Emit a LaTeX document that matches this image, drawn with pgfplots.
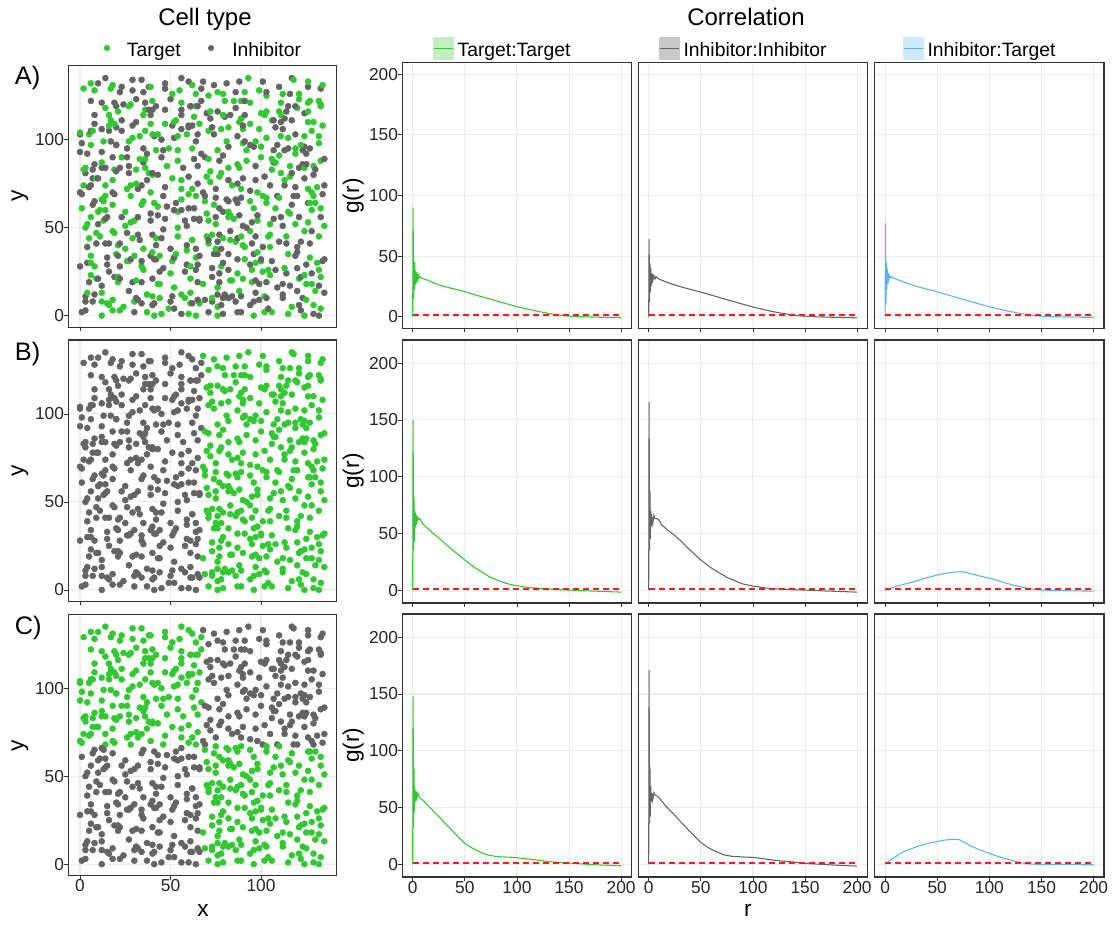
\documentclass[border=0pt]{standalone}
\usepackage{fontspec}
\setmainfont{Liberation Sans}
\usepackage{pgfplots}
\usepackage{pgfplotstable}
\pgfplotsset{compat=1.18}
\definecolor{tgreen}{HTML}{32C832}
\definecolor{igray}{HTML}{646464}
\definecolor{iblue}{HTML}{5AB4EB}
\definecolor{gridc}{HTML}{EBEBEB}
\definecolor{framec}{HTML}{333333}
\definecolor{refred}{HTML}{FF1A1A}

\pgfplotstableread[row sep=\\]{
x y c\\
1 2 I\\ 3 3 I\\ 12 0 T\\ 18 3 T\\ 22 3 T\\ 30 2 I\\ 37 2 T\\ 41 0 T\\ 45 1 T\\ 49 4 T\\ 52 4 I\\ 56 1 I\\ 60 1 T\\ 64 0 T\\ 71 2 I\\ 76 0 T\\ 79 1 I\\ 87 2 I\\ 89 2 I\\ 96 0 T\\ 102 2 T\\ 106 2 T\\ 115 1 T\\ 122 3 I\\ 124 0 T\\ 129 1 I\\ 132 0 I\\
3 8 I\\ 7 8 I\\ 12 8 T\\ 15 7 T\\ 16 6 T\\ 24 5 T\\ 30 8 T\\ 31 10 I\\ 34 7 I\\ 40 6 I\\ 41 7 I\\ 50 8 I\\ 58 10 T\\ 61 7 T\\ 62 7 I\\ 66 7 T\\ 69 9 I\\ 73 8 I\\ 76 5 T\\ 78 6 I\\ 79 10 I\\ 86 8 I\\ 94 6 I\\ 96 8 I\\ 104 4 I\\ 112 10 I\\ 117 5 T\\ 121 6 I\\ 129 6 T\\ 133 4 T\\
3 11 I\\ 4 13 T\\ 8 12 I\\ 12 13 T\\ 18 9 T\\ 27 14 I\\ 32 9 I\\ 37 12 T\\ 40 11 T\\ 44 10 T\\ 51 11 I\\ 56 12 T\\ 61 13 T\\ 65 9 I\\ 73 10 T\\ 76 12 I\\ 80 12 I\\ 82 10 I\\ 84 11 I\\ 88 14 T\\ 89 11 I\\ 97 13 I\\ 99 9 I\\ 102 11 T\\ 103 10 I\\ 112 12 I\\ 120 14 I\\ 123 10 I\\ 125 9 T\\ 130 14 T\\ 135 13 I\\
5 19 I\\ 9 21 T\\ 12 17 I\\ 21 19 T\\ 29 19 I\\ 34 19 I\\ 43 18 T\\ 44 18 T\\ 52 16 T\\ 61 21 T\\ 65 19 I\\ 68 18 T\\ 76 16 T\\ 77 19 I\\ 84 20 T\\ 90 21 T\\ 95 19 T\\ 99 18 I\\ 103 19 I\\ 109 16 I\\ 112 18 I\\ 116 17 I\\ 121 21 T\\ 125 18 T\\ 128 18 T\\ 132 17 I\\
6 23 T\\ 10 21 I\\ 16 25 I\\ 19 22 I\\ 21 22 T\\ 22 21 I\\ 31 20 T\\ 40 21 I\\ 44 25 I\\ 50 24 T\\ 58 25 I\\ 64 26 I\\ 73 22 I\\ 77 24 I\\ 83 20 T\\ 87 24 T\\ 95 26 T\\ 97 20 I\\ 101 25 T\\ 105 23 T\\ 108 26 I\\ 114 24 I\\ 122 22 I\\ 124 23 T\\ 128 24 I\\ 132 26 T\\ 133 22 T\\
0 28 I\\ 4 30 I\\ 6 30 T\\ 8 28 T\\ 15 29 I\\ 22 28 I\\ 26 31 T\\ 34 28 T\\ 35 26 T\\ 41 32 I\\ 42 32 I\\ 46 27 I\\ 51 31 T\\ 59 29 I\\ 61 28 T\\ 65 29 I\\ 73 27 I\\ 78 28 T\\ 79 30 I\\ 82 26 I\\ 91 32 T\\ 94 29 I\\ 97 30 T\\ 100 31 T\\ 104 26 T\\ 113 27 T\\ 120 27 I\\ 125 29 I\\ 131 30 T\\ 135 32 I\\
6 34 T\\ 15 33 I\\ 20 35 T\\ 21 34 I\\ 27 31 T\\ 28 32 I\\ 30 34 T\\ 34 31 I\\ 39 34 I\\ 40 36 T\\ 44 34 T\\ 52 33 I\\ 53 35 T\\ 59 37 T\\ 64 33 T\\ 66 34 I\\ 74 35 I\\ 76 35 I\\ 82 35 I\\ 87 32 I\\ 96 35 I\\ 98 36 T\\ 100 32 I\\ 106 31 I\\ 115 35 T\\ 119 34 I\\ 120 36 I\\ 127 33 T\\ 134 31 I\\
4 39 I\\ 9 41 I\\ 14 41 I\\ 16 41 I\\ 21 40 T\\ 22 41 I\\ 25 38 T\\ 33 43 I\\ 35 38 T\\ 42 40 I\\ 50 38 I\\ 59 40 I\\ 62 43 T\\ 64 38 I\\ 71 41 T\\ 75 38 T\\ 76 42 I\\ 78 38 I\\ 86 42 T\\ 90 40 T\\ 91 39 T\\ 95 41 I\\ 101 39 I\\ 105 39 T\\ 114 41 I\\ 120 39 I\\ 127 41 I\\
5 44 T\\ 9 47 T\\ 11 45 T\\ 19 47 T\\ 26 47 I\\ 29 44 T\\ 32 46 I\\ 40 46 I\\ 42 44 T\\ 45 44 I\\ 54 45 T\\ 62 43 T\\ 70 45 T\\ 71 43 I\\ 73 46 T\\ 77 46 I\\ 79 44 T\\ 83 43 T\\ 87 44 I\\ 89 45 T\\ 94 48 T\\ 97 45 I\\ 104 45 T\\ 105 46 T\\ 110 42 I\\ 114 45 T\\ 122 42 I\\ 124 48 T\\ 132 45 T\\
3 50 T\\ 4 52 T\\ 10 52 I\\ 18 48 T\\ 25 51 T\\ 30 54 T\\ 39 54 I\\ 46 49 I\\ 54 50 T\\ 59 51 I\\ 66 54 I\\ 75 52 T\\ 83 48 I\\ 90 51 I\\ 92 50 I\\ 98 54 T\\ 105 52 T\\ 112 51 I\\ 119 52 T\\ 128 48 I\\ 135 51 T\\
6 56 T\\ 10 59 T\\ 13 54 T\\ 14 55 I\\ 15 56 I\\ 23 56 I\\ 28 53 T\\ 32 56 I\\ 39 58 I\\ 43 57 I\\ 47 55 I\\ 54 59 T\\ 58 54 I\\ 63 55 I\\ 66 55 I\\ 70 58 T\\ 71 54 T\\ 75 56 I\\ 79 59 I\\ 82 56 T\\ 83 57 T\\ 85 55 T\\ 88 57 I\\ 95 53 I\\ 98 57 I\\ 107 55 I\\ 111 56 I\\ 115 59 T\\ 116 58 T\\ 121 56 I\\ 126 53 T\\ 133 56 I\\
1 61 T\\ 7 63 I\\ 11 60 T\\ 14 60 T\\ 18 63 T\\ 25 59 T\\ 34 63 T\\ 43 62 T\\ 48 62 I\\ 52 60 I\\ 56 60 I\\ 60 61 I\\ 63 61 I\\ 69 65 T\\ 74 63 T\\ 77 61 I\\ 82 59 T\\ 87 64 I\\ 96 61 T\\ 103 64 T\\ 108 61 T\\ 117 63 I\\ 126 64 I\\ 127 64 T\\ 128 60 T\\ 130 64 T\\ 133 61 T\\
0 70 I\\ 1 69 I\\ 8 65 I\\ 12 66 T\\ 13 65 T\\ 14 68 T\\ 19 69 I\\ 28 68 T\\ 35 65 T\\ 41 64 T\\ 46 68 I\\ 53 64 I\\ 56 66 T\\ 60 69 T\\ 64 68 T\\ 69 68 I\\ 75 67 I\\ 81 66 I\\ 82 65 I\\ 86 66 I\\ 89 67 I\\ 94 65 T\\ 101 68 T\\ 103 67 T\\ 109 68 I\\ 110 67 T\\ 118 68 I\\ 120 68 I\\ 128 70 T\\ 129 68 T\\ 134 69 I\\
2 74 T\\ 5 73 I\\ 6 74 I\\ 14 74 T\\ 18 70 I\\ 26 72 T\\ 28 74 T\\ 32 72 I\\ 34 74 I\\ 39 70 T\\ 47 73 I\\ 56 72 T\\ 62 72 T\\ 68 70 I\\ 72 76 T\\ 75 72 I\\ 84 74 T\\ 89 72 T\\ 94 71 I\\ 98 70 T\\ 105 74 I\\ 113 74 I\\ 119 73 I\\ 126 72 T\\ 131 73 T\\ 135 74 I\\
3 81 I\\ 7 78 I\\ 9 78 T\\ 10 78 I\\ 18 77 T\\ 27 81 I\\ 31 75 T\\ 37 77 I\\ 38 81 T\\ 40 80 T\\ 43 80 I\\ 51 78 T\\ 56 77 T\\ 60 79 I\\ 65 75 I\\ 70 79 T\\ 77 79 T\\ 82 77 I\\ 87 75 I\\ 90 78 I\\ 97 77 I\\ 102 79 I\\ 111 81 T\\ 113 77 T\\ 116 79 T\\ 124 78 I\\ 129 80 I\\
2 83 T\\ 3 84 T\\ 7 83 I\\ 12 84 I\\ 14 84 I\\ 19 83 T\\ 20 82 I\\ 22 84 I\\ 27 85 I\\ 31 83 T\\ 35 87 I\\ 36 84 T\\ 40 81 I\\ 48 85 T\\ 57 84 I\\ 65 85 I\\ 72 82 T\\ 78 81 T\\ 82 84 T\\ 88 84 T\\ 97 85 I\\ 106 83 T\\ 107 87 I\\ 116 85 T\\ 117 81 I\\ 121 84 I\\ 123 86 I\\ 124 84 T\\ 125 86 I\\ 129 85 T\\ 130 83 I\\
8 86 I\\ 12 87 T\\ 18 90 I\\ 23 90 T\\ 26 90 I\\ 33 89 T\\ 36 89 T\\ 37 92 I\\ 45 90 I\\ 54 88 T\\ 63 89 I\\ 69 90 I\\ 71 89 T\\ 77 88 I\\ 79 91 I\\ 87 86 T\\ 92 88 T\\ 100 90 T\\ 106 89 T\\ 108 87 T\\ 110 91 T\\ 119 92 T\\ 125 92 I\\ 133 88 T\\ 135 89 I\\
0 93 I\\ 4 92 I\\ 6 97 T\\ 12 93 I\\ 20 97 I\\ 26 95 I\\ 35 95 I\\ 42 94 T\\ 46 94 I\\ 49 95 T\\ 54 94 T\\ 62 95 T\\ 67 92 I\\ 76 94 T\\ 82 96 I\\ 90 98 T\\ 92 94 T\\ 96 96 I\\ 100 96 T\\ 107 94 I\\ 109 97 I\\ 113 94 I\\ 115 95 I\\ 119 95 T\\ 123 94 I\\ 124 96 I\\ 127 95 I\\ 132 98 T\\
0 103 I\\ 1 98 I\\ 5 103 T\\ 13 99 T\\ 17 99 I\\ 20 97 I\\ 27 99 T\\ 29 101 T\\ 33 102 T\\ 41 102 I\\ 45 100 I\\ 52 101 I\\ 54 102 T\\ 59 103 T\\ 64 99 I\\ 65 103 I\\ 74 103 I\\ 81 99 T\\ 87 102 I\\ 91 99 I\\ 94 97 I\\ 97 99 T\\ 103 101 T\\ 111 102 T\\ 115 101 T\\ 122 97 T\\ 124 102 T\\ 132 102 T\\
0 104 T\\ 6 105 I\\ 7 105 T\\ 12 106 I\\ 16 105 I\\ 20 107 I\\ 23 105 I\\ 29 108 I\\ 36 105 T\\ 39 109 T\\ 40 103 T\\ 43 103 T\\ 51 108 I\\ 56 106 I\\ 60 107 I\\ 66 109 T\\ 71 105 T\\ 73 107 I\\ 78 106 T\\ 82 107 T\\ 90 106 T\\ 99 106 T\\ 108 107 I\\ 112 106 I\\ 119 103 I\\ 128 105 T\\ 134 108 T\\
8 109 I\\ 16 108 T\\ 17 111 T\\ 19 109 T\\ 23 111 I\\ 31 110 I\\ 35 114 T\\ 39 114 I\\ 47 109 T\\ 52 110 T\\ 53 111 T\\ 56 114 I\\ 60 108 I\\ 62 108 I\\ 63 113 T\\ 72 112 I\\ 80 113 I\\ 88 110 T\\ 89 112 T\\ 90 108 I\\ 94 109 T\\ 102 114 T\\ 106 111 T\\ 107 111 I\\ 111 110 I\\ 113 112 I\\ 117 111 I\\ 126 110 T\\ 129 110 T\\
8 114 I\\ 14 118 T\\ 16 114 T\\ 20 119 I\\ 21 116 T\\ 24 120 I\\ 28 120 T\\ 36 117 T\\ 38 117 I\\ 40 117 I\\ 47 117 I\\ 56 117 I\\ 61 119 I\\ 64 119 T\\ 70 115 I\\ 72 116 T\\ 76 116 I\\ 79 114 T\\ 83 114 I\\ 86 118 I\\ 91 114 I\\ 100 115 T\\ 103 116 T\\ 110 116 T\\ 111 114 T\\ 114 116 I\\ 120 118 T\\ 124 115 I\\ 126 116 T\\ 133 119 T\\
6 122 I\\ 12 121 I\\ 19 121 I\\ 27 119 T\\ 31 123 I\\ 36 121 I\\ 40 122 T\\ 42 119 I\\ 50 123 I\\ 56 121 T\\ 61 119 I\\ 65 119 I\\ 67 122 I\\ 71 125 T\\ 80 122 T\\ 85 122 T\\ 89 122 T\\ 91 122 I\\ 94 121 T\\ 103 125 T\\ 111 121 T\\ 115 119 I\\ 119 119 I\\ 121 123 T\\ 126 121 T\\ 127 122 T\\ 132 122 T\\ 133 120 T\\
2 129 T\\ 8 128 T\\ 17 129 T\\ 22 127 I\\ 29 128 I\\ 35 127 I\\ 38 130 I\\ 47 129 I\\ 51 126 T\\ 55 128 T\\ 64 126 T\\ 67 129 I\\ 76 127 T\\ 79 126 T\\ 86 127 I\\ 91 127 T\\ 99 128 T\\ 103 127 I\\ 112 126 T\\ 116 126 I\\ 121 126 T\\ 126 130 I\\ 133 129 I\\
6 132 T\\ 10 132 I\\ 14 135 I\\ 18 131 T\\ 23 130 I\\ 29 134 I\\ 34 134 I\\ 39 130 T\\ 47 132 I\\ 56 135 I\\ 60 133 I\\ 62 131 T\\ 68 133 I\\ 74 131 I\\ 81 132 I\\ 88 133 I\\ 93 135 T\\ 101 133 I\\ 110 130 I\\ 117 135 I\\ 118 134 T\\ 126 133 T\\ 134 131 T\\
}\pts

\pgfplotsset{
  base/.style={scale only axis, anchor=north west,
    axis line style={framec, line width=0.8pt},
    tick align=outside, major tick length=3pt,
    tick style={framec, line width=0.6pt}, tick pos=left,
    grid=major, major grid style={gridc, line width=0.8pt},
    ticklabel style={font=\fontsize{13}{15}\selectfont, text=black!85},
    /pgf/number format/assume math mode=true},
  sc/.style={base, width=201.3pt, height=196pt, xmin=-6.5, xmax=141.8, ymin=-6.5, ymax=142,
    xtick={0,50,100}, ytick={0,50,100}},
  cr/.style={base, width=172pt, xmin=-10, xmax=210, xtick={0,50,100,150,200}, ytick={0,50,100,150,200}},
  rA/.style={ymin=-9.6, ymax=209.6, height=199.2pt},
  rB/.style={ymin=-11.4, ymax=220.5, height=197.25pt},
  nox/.style={xticklabels={}},
  noy/.style={yticklabels={}, ytick style={draw=none}},
  dots/.style={only marks, mark=*, mark size=2.25pt},
  cv/.style={line width=0.8pt, no marks},
  hline/.style={draw=refred, color=refred, solid, dash pattern=on 4.5pt off 3pt, line width=1.2pt, no marks, opacity=1},
}

\begin{document}
\begin{tikzpicture}[every node/.style={inner sep=0pt}]
\useasboundingbox (0,0) rectangle (836.25pt,-694.5pt);

% ---------- titles and legends ----------
\node[anchor=base, font=\fontsize{18}{21}\selectfont] at (153.75pt,-19pt) {Cell type};
\node[anchor=base, font=\fontsize{18}{21}\selectfont] at (559.5pt,-19pt) {Correlation};
\fill[tgreen] (80.25pt,-36pt) circle (2.3pt);
\node[anchor=base west, font=\fontsize{14.5}{17}\selectfont] at (95pt,-42pt) {Target};
\fill[igray] (158.25pt,-36pt) circle (2.3pt);
\node[anchor=base west, font=\fontsize{14.5}{17}\selectfont] at (174pt,-42pt) {Inhibitor};

\fill[tgreen!30] (324.75pt,-28pt) rectangle (340.5pt,-45pt);
\draw[tgreen, line width=0.8pt] (325.5pt,-36.5pt) -- (339.75pt,-36.5pt);
\node[anchor=base west, font=\fontsize{14.5}{17}\selectfont] at (343pt,-42pt) {Target:Target};
\fill[igray!35] (494.25pt,-28pt) rectangle (510pt,-45pt);
\draw[igray, line width=0.8pt] (495pt,-36.5pt) -- (509.25pt,-36.5pt);
\node[anchor=base west, font=\fontsize{14.5}{17}\selectfont] at (512.5pt,-42pt) {Inhibitor:Inhibitor};
\fill[iblue!30] (677.25pt,-28pt) rectangle (693pt,-45pt);
\draw[iblue, line width=0.8pt] (678pt,-36.5pt) -- (692.25pt,-36.5pt);
\node[anchor=base west, font=\fontsize{14.5}{17}\selectfont] at (695.5pt,-42pt) {Inhibitor:Target};

% tags and axis titles
\node[anchor=base west, font=\fontsize{19}{22}\selectfont] at (11pt,-63pt) {A)};
\node[anchor=base west, font=\fontsize{19}{22}\selectfont] at (11pt,-270pt) {B)};
\node[anchor=base west, font=\fontsize{19}{22}\selectfont] at (11pt,-475.5pt) {C)};
\foreach \yy in {147,353.25,559} {
  \node[rotate=90, font=\fontsize{17}{20}\selectfont] at (15pt,-\yy pt) {y};
  \node[rotate=90, font=\fontsize{17}{20}\selectfont] at (265pt,-\yy pt) {g(r)};
}
\node[anchor=base, font=\fontsize{17}{20}\selectfont] at (152.25pt,-687pt) {x};
\node[anchor=base, font=\fontsize{17}{20}\selectfont] at (561pt,-687pt) {r};

% ---------- scatter panels ----------
\begin{axis}[sc, nox, at={(51.2pt,-49.3pt)}]
\addplot[scatter, only marks, mark size=2.25pt, scatter src=explicit symbolic,
  scatter/classes={T={mark=*,draw=tgreen,fill=tgreen},I={mark=*,draw=igray,fill=igray}}]
  table[x=x,y=y,meta=c]{\pts};
\end{axis}
\begin{axis}[sc, nox, at={(51.2pt,-255pt)}]
\addplot[dots, igray, restrict x to domain=-10:67.5] table[x=x,y=y]{\pts};
\addplot[dots, tgreen, restrict x to domain=67.5:200] table[x=x,y=y]{\pts};
\end{axis}
\begin{axis}[sc, at={(51.2pt,-460.7pt)}]
\addplot[dots, tgreen, restrict x to domain=-10:67.5, restrict y to domain=67.5:200] table[x=x,y=y]{\pts};
\addplot[dots, igray, restrict x to domain=-10:67.5, restrict y to domain=-10:67.5] table[x=x,y=y]{\pts};
\addplot[dots, igray, restrict x to domain=67.5:200, restrict y to domain=67.5:200] table[x=x,y=y]{\pts};
\addplot[dots, tgreen, restrict x to domain=67.5:200, restrict y to domain=-10:67.5] table[x=x,y=y]{\pts};
\end{axis}

% ---------- correlation row A ----------
\begin{axis}[cr, rA, nox, at={(301.7pt,-47pt)}]
\addplot[cv, tgreen] coordinates {(0,0) (0.4,90) (0.8,15) (1.2,46) (1.6,22) (2.0,45) (2.4,26) (2.8,38) (3.2,27) (3.6,37) (4,29) (4.5,35) (5,31) (5.5,34) (6,32) (7,33) (8,32) (10,31.4) (15,29.8) (20,28) (26,26) (30,25) (40,22.8) (50,20.6) (60,18) (75,14.3) (90,10.6) (100,8.3) (110,6.2) (120,4.4) (130,2.7) (140,1.3) (150,0.5) (160,0) (175,-0.4) (190,-0.7) (200,-0.9)};
\addplot[hline] coordinates {(0,1.2) (200,1.2)};
\end{axis}
\begin{axis}[cr, rA, nox, noy, at={(478.7pt,-47pt)}]
\addplot[cv, igray] coordinates {(0,0) (0.4,64) (0.8,12) (1.2,44) (1.6,20) (2.0,40) (2.4,25) (2.8,36) (3.2,28) (3.6,35) (4,30) (5,34) (6,31) (7,33) (8,32) (10,31) (20,27.5) (30,24.8) (40,22.5) (50,20.3) (60,17.8) (75,14) (90,10.3) (100,8) (110,5.9) (120,4) (130,2.5) (140,1.2) (150,0.4) (160,-0.1) (175,-0.5) (190,-0.8) (200,-1)};
\addplot[hline] coordinates {(0,1.2) (200,1.2)};
\end{axis}
\begin{axis}[cr, rA, nox, noy, at={(656pt,-47pt)}]
\addplot[cv, iblue] coordinates {(0,0) (0.4,77) (0.8,10) (1.2,45) (1.6,22) (2.0,40) (2.4,27) (2.8,36) (3.2,30) (4,34) (5,32) (6,33) (8,32) (10,31.2) (20,27.8) (30,25) (40,22.7) (50,20.5) (60,18) (75,14.2) (90,10.5) (100,8.2) (110,6.1) (120,4.2) (130,2.6) (140,1.2) (150,0.4) (160,0) (175,-0.3) (190,-0.5) (200,-0.6)};
\addplot[hline] coordinates {(0,1.2) (200,1.2)};
\end{axis}

% ---------- correlation row B ----------
\begin{axis}[cr, rB, nox, at={(301.7pt,-255pt)}]
\addplot[cv, tgreen] coordinates {(0,0) (0.4,150) (0.8,35) (1.2,82) (1.6,43) (2.0,70) (2.4,55) (2.8,68) (3.2,58) (3.6,66) (4,60) (5,64) (6,62) (7,63) (8,61) (10,58) (15,54) (20,49.5) (23.4,47.2) (30,42) (40,34) (50,26.5) (60,19.5) (75,11) (90,5.8) (100,3.8) (112,2.2) (125,1.2) (140,0.4) (150,0) (165,-0.6) (180,-1.1) (200,-1.8)};
\addplot[hline] coordinates {(0,1) (200,1)};
\end{axis}
\begin{axis}[cr, rB, nox, noy, at={(478.7pt,-255pt)}]
\addplot[cv, igray] coordinates {(0,0) (0.4,166) (0.8,35) (1.2,88) (1.6,45) (2.0,70) (2.4,56) (2.8,67) (3.2,58) (3.6,64) (4,59) (5,66) (6,63) (8,63) (9.6,62) (12,58) (18,53) (24,49) (30,44) (40,35) (50,26.5) (60,19.5) (75,11.2) (90,5.5) (100,3.5) (113,1.8) (126,0.9) (140,0.3) (150,0) (170,-0.8) (185,-1.3) (200,-1.8)};
\addplot[hline] coordinates {(0,1) (200,1)};
\end{axis}
\begin{axis}[cr, rB, nox, noy, at={(656pt,-255pt)}]
\addplot[cv, iblue] coordinates {(0,0) (5,1.5) (10,3) (15,4.4) (20,5.6) (27.5,7.3) (35,9.5) (42,11.3) (50,13.3) (57,14.6) (64,15.6) (68,16.0) (72,16.2) (76,15.8) (82,14.5) (90,12.6) (101,10.3) (112,7.2) (123,4.4) (133,2.2) (143,0.6) (150,0.1) (160,-0.3) (175,-0.6) (200,-0.9)};
\addplot[hline] coordinates {(0,1) (200,1)};
\end{axis}

% ---------- correlation row C ----------
\begin{axis}[cr, rB, at={(301.7pt,-460.5pt)}]
\addplot[cv, tgreen] coordinates {(0,0) (0.4,148) (0.8,32) (1.2,85) (1.6,46) (2.0,68) (2.4,55) (2.8,65) (3.2,57) (3.6,64) (4,58) (5,62) (6,60) (7,58.6) (10,56) (13.8,52.7) (20,46.5) (26.5,40.4) (35,32.4) (40,27.5) (50,18.2) (60,12.5) (71,8.2) (78,7) (84,6.4) (95,6) (106.5,5) (118,3.8) (129,2.3) (140,1.4) (150,0.9) (165,0) (180,-0.8) (200,-1.5)};
\addplot[hline] coordinates {(0,1) (200,1)};
\end{axis}
\begin{axis}[cr, rB, noy, at={(478.7pt,-460.5pt)}]
\addplot[cv, igray] coordinates {(0,0) (0.4,171) (0.8,36) (1.2,86) (1.6,42) (2.0,69) (2.4,55) (2.8,63) (3.2,55) (3.6,62) (4,57) (5,63) (6,61) (8,60) (10,58.6) (16,51.5) (24,44) (35,33) (50,19) (60,13) (72,8.2) (80,6.8) (90,6.3) (100,5.9) (108,5) (117,3.8) (130,2.5) (142,1.5) (150,0.6) (165,-0.2) (180,-1) (200,-1.8)};
\addplot[hline] coordinates {(0,1) (200,1)};
\end{axis}
\begin{axis}[cr, rB, noy, at={(656pt,-460.5pt)}]
\addplot[cv, iblue] coordinates {(0,0) (5,3.5) (10,6.6) (14.7,9.4) (20,11.8) (25,13.5) (30.7,15.5) (38,17.5) (44,18.8) (50,19.9) (56,21) (62.7,21.7) (67,21.9) (71.7,21.4) (76,19.2) (82,16.1) (90,12.8) (100.4,9.4) (108,6.8) (117,4.4) (127,2) (136,0.2) (150,-0.4) (175,-0.5) (200,-0.6)};
\addplot[hline] coordinates {(0,1) (200,1)};
\end{axis}
\end{tikzpicture}
\end{document}
